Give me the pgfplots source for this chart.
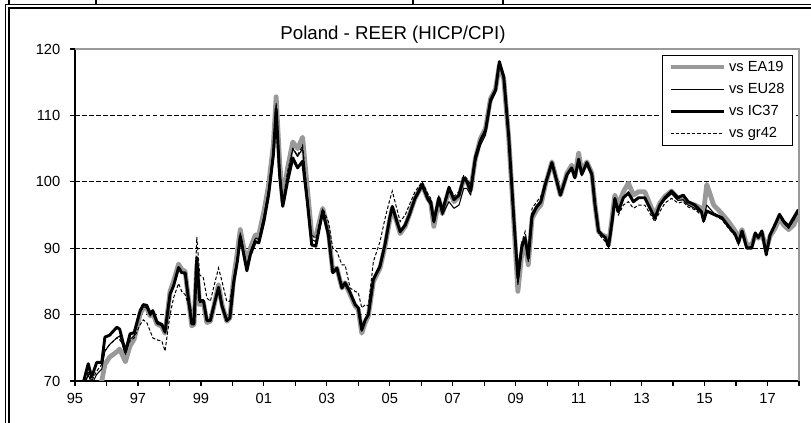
\documentclass[border=0pt]{standalone}
\usepackage{fontspec}
\setmainfont{Liberation Sans}
\usepackage{pgfplots}
\usepackage{pgfplotstable}
\pgfplotsset{compat=1.18}
\definecolor{eagray}{RGB}{153,153,153}
\pgfplotstableread{
x ea eu ic gr
1995.25 67.0 68.5 69.5 68.5
1995.42 68.0 71.0 72.6 71.5
1995.53 67.5 69.5 70.6 70.0
1995.69 69.0 71.0 72.8 71.5
1995.85 70.0 71.8 72.8 72.5
1995.95 72.5 74.5 76.6 74.5
1996.10 73.6 75.5 76.9 75.5
1996.33 74.4 76.5 78.1 76.5
1996.42 74.8 76.8 77.8 76.2
1996.60 72.9 74.0 74.4 75.0
1996.75 75.3 76.3 77.1 76.0
1996.88 76.3 76.8 77.3 76.5
1997.07 80.1 80.3 80.6 78.5
1997.17 81.0 81.2 81.5 79.2
1997.28 81.0 81.0 81.4 78.8
1997.39 79.8 79.8 80.1 77.5
1997.47 80.3 80.3 80.6 76.5
1997.60 78.6 78.6 78.9 76.2
1997.76 78.2 78.3 78.5 76.0
1997.86 77.2 77.2 77.4 74.5
1998.02 83.5 83.0 83.1 80.0
1998.13 85.0 84.5 84.3 82.5
1998.29 87.6 87.0 87.1 84.7
1998.39 86.8 86.3 86.3 83.5
1998.50 86.5 86.0 86.3 83.0
1998.60 82.5 82.3 82.5 81.5
1998.71 78.3 78.5 78.6 80.5
1998.78 78.5 78.5 78.6 80.5
1998.87 87.5 88.0 88.6 91.7
1998.96 81.5 81.8 82.1 86.0
1999.08 81.8 82.0 82.1 85.5
1999.19 78.8 79.0 79.1 82.5
1999.30 79.0 79.0 79.1 82.0
1999.40 81.0 81.0 81.1 84.0
1999.56 84.5 84.0 84.1 87.0
1999.67 81.5 81.3 81.3 85.0
1999.82 79.0 79.0 79.1 82.0
1999.92 79.5 79.5 79.5 82.0
2000.04 85.5 85.0 84.8 85.5
2000.16 89.5 88.8 88.1 88.5
2000.25 92.8 92.3 91.8 92.0
2000.46 87.5 87.0 86.6 87.5
2000.57 90.0 89.5 89.0 89.5
2000.73 92.0 91.5 91.0 91.5
2000.84 92.0 91.3 90.8 91.5
2001.00 95.5 94.8 94.0 94.8
2001.15 99.5 98.8 98.0 98.8
2001.30 105.5 104.8 104.0 104.8
2001.39 112.8 111.8 111.0 110.5
2001.50 103.0 102.0 101.0 102.0
2001.60 97.0 96.5 96.3 97.0
2001.75 102.0 101.0 100.0 101.5
2001.92 106.0 105.0 103.6 105.0
2002.07 105.0 103.8 102.1 104.0
2002.23 106.7 105.0 103.1 105.5
2002.38 99.0 98.0 97.0 98.0
2002.52 92.0 91.3 90.5 92.0
2002.65 91.8 91.0 90.3 91.5
2002.87 96.0 95.8 95.6 96.0
2003.05 92.5 92.2 92.0 94.0
2003.19 86.5 86.3 86.3 90.0
2003.32 87.0 87.0 87.0 89.5
2003.48 84.0 84.0 84.0 87.5
2003.58 84.8 84.8 84.8 87.5
2003.74 83.0 83.2 83.3 84.0
2003.90 81.3 81.5 81.5 83.5
2004.00 80.8 81.0 81.0 83.3
2004.11 77.2 77.5 77.7 81.0
2004.22 78.8 79.0 79.2 81.5
2004.32 79.8 80.0 80.0 81.3
2004.48 85.0 85.2 85.3 88.0
2004.69 87.0 87.0 87.3 91.0
2004.85 90.3 90.5 90.6 94.5
2005.00 94.3 94.5 94.6 97.3
2005.08 96.0 96.0 96.3 98.6
2005.22 94.0 94.0 94.1 96.0
2005.33 92.2 92.3 92.5 94.0
2005.49 93.3 93.3 93.5 95.0
2005.62 95.0 95.0 95.0 96.5
2005.80 97.5 97.3 97.5 98.5
2006.03 99.5 99.2 99.6 100.0
2006.20 97.5 97.2 97.6 98.3
2006.30 96.8 96.5 97.0 97.5
2006.40 93.3 93.8 94.0 94.5
2006.56 97.3 97.0 97.6 98.0
2006.67 95.2 95.0 95.5 96.0
2006.88 98.8 97.0 99.1 99.5
2007.04 97.0 96.0 97.3 97.8
2007.20 97.8 96.5 98.0 98.5
2007.35 100.5 99.0 100.6 101.0
2007.45 100.0 99.0 100.0 100.5
2007.57 98.8 98.0 98.6 99.5
2007.72 103.5 103.0 103.7 104.0
2007.88 106.5 105.5 106.2 106.5
2008.04 108.0 107.0 107.7 108.0
2008.20 112.5 111.8 112.3 112.5
2008.36 114.0 113.5 113.8 114.0
2008.48 117.5 117.5 118.1 117.8
2008.62 115.5 115.5 115.8 115.5
2008.78 106.5 106.5 106.7 106.8
2008.94 94.0 94.0 94.5 94.5
2009.07 83.5 84.5 85.5 86.0
2009.20 89.5 90.0 90.5 91.0
2009.30 90.5 91.0 91.6 92.5
2009.40 87.5 88.0 88.5 89.5
2009.52 94.5 94.5 95.0 96.0
2009.67 95.8 96.0 96.3 97.0
2009.80 96.5 96.8 97.0 97.8
2009.94 99.5 99.5 99.6 100.0
2010.15 103.0 102.8 102.9 102.8
2010.42 98.0 98.0 98.0 98.3
2010.63 101.3 101.0 101.1 101.0
2010.78 102.5 102.0 102.1 102.0
2010.88 100.8 100.5 100.6 100.5
2011.00 104.3 103.5 103.4 103.0
2011.10 101.5 101.0 101.1 101.0
2011.26 103.0 102.8 102.9 102.5
2011.42 101.3 101.0 101.1 100.8
2011.52 96.5 96.5 96.5 96.3
2011.63 92.5 92.5 92.6 92.3
2011.74 92.0 92.0 92.0 91.5
2011.85 91.8 91.6 91.6 91.0
2011.95 90.5 90.3 90.3 90.0
2012.06 94.5 94.0 94.0 93.0
2012.15 98.0 97.3 97.5 96.5
2012.26 96.5 95.5 95.5 95.0
2012.42 98.5 97.5 97.6 96.5
2012.58 99.8 98.5 98.3 97.0
2012.74 98.0 97.0 97.0 96.0
2012.90 98.5 97.5 97.6 96.5
2013.10 98.5 97.5 97.6 96.5
2013.32 96.0 95.3 95.5 94.8
2013.42 95.0 94.5 94.5 94.0
2013.58 96.8 96.3 96.5 95.5
2013.74 97.8 97.3 97.6 96.8
2013.95 98.6 98.2 98.6 97.5
2014.16 97.5 97.2 97.6 96.8
2014.32 97.5 97.3 98.0 97.0
2014.48 96.8 96.5 97.0 96.2
2014.69 96.5 96.0 96.5 95.8
2014.90 96.0 95.3 95.5 95.0
2014.97 95.5 94.5 94.1 94.0
2015.07 99.6 96.5 95.6 95.5
2015.29 96.5 95.3 95.1 95.0
2015.55 95.2 94.6 94.6 94.3
2015.76 94.0 93.3 93.3 93.0
2015.97 92.6 92.0 92.1 91.8
2016.08 91.5 90.8 90.8 90.5
2016.19 92.8 92.5 92.6 92.3
2016.34 90.5 90.2 90.0 90.0
2016.50 90.5 90.2 90.0 90.0
2016.61 92.0 92.0 92.3 92.0
2016.71 91.5 91.5 91.6 91.5
2016.82 92.3 92.3 92.6 92.3
2016.96 89.8 89.5 89.0 89.3
2017.08 91.8 91.8 92.0 91.8
2017.24 93.0 93.3 93.6 93.3
2017.38 94.5 94.8 95.1 94.8
2017.51 93.5 93.8 94.1 93.8
2017.67 92.8 93.0 93.3 93.0
2017.83 93.5 94.2 94.6 94.2
2017.98 95.0 95.5 95.8 95.5
}\reer
\begin{document}
\begin{tikzpicture}
\useasboundingbox (0,0) rectangle (608.25pt,317.25pt);
% frame
\draw[line width=1.1pt] (4.1pt,0) -- (4.1pt,313.8pt) -- (608.25pt,313.8pt);
\draw[line width=1.1pt] (6.6pt,0) -- (6.6pt,311.2pt) -- (608.25pt,311.2pt);
\foreach \xx in {6.6,72,309.75,377.25} \draw[line width=1.1pt] (\xx pt,313.8pt) -- (\xx pt,317.25pt);
\node[font=\fontsize{14}{16}\selectfont] at (294.75pt,291pt) {Poland - REER (HICP/CPI)};
\begin{axis}[
  at={(56.25pt,31.5pt)}, anchor=south west,
  scale only axis, width=543pt, height=249pt,
  xmin=1995, xmax=2018, ymin=70, ymax=120,
  axis lines*=left,
  clip mode=individual,
  axis line style={line width=0.9pt, black},
  tick style={line width=0.9pt, black},
  major tick length=3.5pt, tick align=outside,
  xtick={1995,1996,...,2018},
  xticklabels={95,,97,,99,,01,,03,,05,,07,,09,,11,,13,,15,,17,},
  ytick={70,80,...,120},
  /pgf/number format/assume math mode=true,
  tick label style={font=\fontsize{11}{13}\selectfont},
  yticklabel style={xshift=-4pt},
  xticklabel style={yshift=-2.5pt},
  ymajorgrids,
  grid style={black, line width=0.6pt, dash pattern=on 3.5pt off 1.8pt},
  legend style={at={(rel axis cs:1,1)}, anchor=north east, xshift=-4.5pt, yshift=-4.5pt,
    draw=black, line width=0.8pt, font=\fontsize{11}{13}\selectfont,
    row sep=3.5pt, inner xsep=4pt, inner ysep=2pt, cells={anchor=west}},
  legend image code/.code={\draw[#1] (0pt,0pt) -- (40pt,0pt);},
]
\addplot[eagray, line width=3.6pt, line join=round, mark=none] table[x=x,y=ea]{\reer};
\addplot[black, line width=0.8pt, line join=round, mark=none] table[x=x,y=eu]{\reer};
\addplot[black, line width=2.2pt, line join=round, mark=none] table[x=x,y=ic]{\reer};
\addplot[black, line width=0.75pt, dash pattern=on 2.5pt off 1.5pt, mark=none] table[x=x,y=gr]{\reer};
\legend{vs EA19, vs EU28, vs IC37, vs gr42}
\draw[eagray, line width=0.8pt] (rel axis cs:0,1) -- (rel axis cs:1,1) -- (rel axis cs:1,0);
\end{axis}
\end{tikzpicture}
\end{document}
